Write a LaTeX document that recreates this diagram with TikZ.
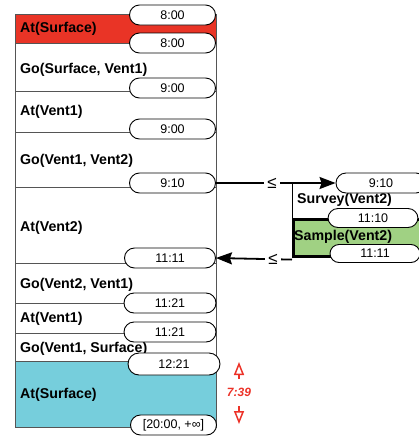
\documentclass[tikz,border=0pt]{standalone}
\usepackage{fontspec}
\setmainfont{Liberation Sans}
\usetikzlibrary{positioning,arrows.meta}
\definecolor{surfred}{RGB}{233,52,38}
\definecolor{surfcyan}{RGB}{118,206,220}
\definecolor{samplegreen}{RGB}{160,209,131}
\definecolor{gapred}{RGB}{236,50,40}
\definecolor{rowgray}{RGB}{85,85,85}

\begin{document}
\begin{tikzpicture}[x=1pt,y=-1pt,
	tok/.style={draw, line width=0.9pt, fill=white, rounded corners=10pt,
		minimum width=86pt, minimum height=20pt, inner sep=0pt,
		font=\fontsize{12.5}{13}\selectfont},
	act/.style={anchor=west, inner sep=0pt, font=\bfseries\fontsize{14.2}{15}\selectfont},
	row/.style={draw=rowgray, line width=0.9pt},
	link/.style={line width=1.8pt, -{Stealth[length=16pt,width=12pt,inset=2pt]}},
	le/.style={fill=white, inner xsep=3pt, inner ysep=2pt, font=\fontsize{17}{17}\selectfont},
	gaparrow/.style={draw=gapred, line width=1.5pt, -{Triangle[open,length=13pt,width=10pt]}}]
	\clip (0,0) rectangle (419,437);
	% column rows
	\fill[surfred] (15,14) rectangle (216,43);
	\fill[surfcyan] (15,361) rectangle (216,427);
	\draw[row] (216,14) -- (15,14) -- (15,427) -- (216,427) -- cycle;
	\foreach \y in {43,91,132,187,263,303,333,361}
		\draw[row] (15,\y) -- (216,\y);
	% activities
	\node[act] (a1) at (20,29) {At(Surface)};
	\node[act] (a2) at (20,70) {Go(Surface, Vent1)};
	\node[act] (a3) at (20,112) {At(Vent1)};
	\node[act] (a4) at (20,161) {Go(Vent1, Vent2)};
	\node[act] (a5) at (20,228) {At(Vent2)};
	\node[act] (a6) at (20,285) {Go(Vent2, Vent1)};
	\node[act] (a7) at (20,319) {At(Vent1)};
	\node[act] (a8) at (20,349) {Go(Vent1, Surface)};
	\node[act] (a9) at (20,395) {At(Surface)};
	% time tokens
	\node[tok] (t1) at (172.5,15) {8:00};
	\node[tok] (t2) at (172.5,43) {8:00};
	\node[tok] (t3) at (172.5,88) {9:00};
	\node[tok] (t4) at (172.5,129) {9:00};
	\node[tok] (t5) at (172.5,183) {9:10};
	\node[tok, minimum width=91pt] (t6) at (170,258) {11:11};
	\node[tok, minimum width=92pt] (t7) at (170,303) {11:21};
	\node[tok, minimum width=92pt] (t8) at (170,332) {11:21};
	\node[tok, minimum width=92pt, minimum height=22pt, rounded corners=11pt] (t9) at (174,364) {12:21};
	\node[tok] (t10) at (173.5,425) {[20:00, +∞]};
	% second timeline
	\node[draw, line width=2.6pt, fill=samplegreen, anchor=north west,
		minimum width=160pt, minimum height=37pt] (sample) at (292,218) {};
	\node[act] (s1) at (297,200) {Survey(Vent2)};
	\node[act] (s2) at (294,237) {Sample(Vent2)};
	\node[tok, minimum width=90pt] (r1) at (381,183) {9:10};
	\node[tok, minimum width=90pt, minimum height=19pt] (r2) at (373,218) {11:10};
	\node[tok, minimum width=90pt, minimum height=18pt, rounded corners=9pt] (r3) at (375,253.5) {11:11};
	\draw[line width=0.9pt] (sample.north west) -- (sample.north west |- r1.west);
	\draw[link] (t5.east) -- node[le, pos=0.47] {≤} (r1.west);
	\draw[link] ([yshift=-2pt]sample.south west) -- node[le, pos=0.25] {≤} (t6.east);
	% gap
	\node[text=gapred, font=\bfseries\itshape\fontsize{12}{12}\selectfont] (gap) at (239,392) {7:39};
	\coordinate (gaptop) at (239,362);
	\coordinate (gapbot) at (239,424);
	\draw[gaparrow] (239,379) -- (gaptop);
	\draw[gaparrow] (239,406) -- (gapbot);
\end{tikzpicture}
\end{document}
